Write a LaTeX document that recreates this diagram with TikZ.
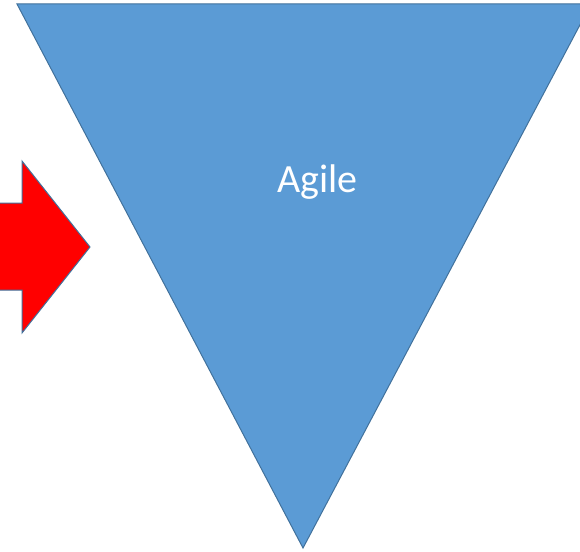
\documentclass[tikz,border=0pt]{standalone}
\usepackage{fontspec}
\setmainfont{Carlito}
\definecolor{shapefill}{HTML}{5B9BD5}
\definecolor{shapeline}{HTML}{41719C}
\definecolor{arrowred}{HTML}{FF0000}
\tikzset{
  funnel/.style={fill=shapefill, draw=shapeline, line width=1pt, line join=miter},
  bigarrow/.style={fill=arrowred, draw=shapeline, line width=1pt, line join=miter},
  label/.style={text=white, font=\fontsize{40}{48}\selectfont, inner sep=0pt}
}
\begin{document}
\begin{tikzpicture}[x=1pt,y=-1pt]
  \useasboundingbox (0,0) rectangle (580,551);
  \clip (0,0) rectangle (580,551);
  % inverted triangle
  \draw[funnel] (17,4) -- (591,4) -- (303,548) -- cycle;
  % block arrow pointing right
  \draw[bigarrow] (-10,203) -- (22,203) -- (22,161) -- (90,247)
                  -- (22,333) -- (22,290) -- (-10,290) -- cycle;
  \node[label, anchor=base] (agile) at (317.5,192) {Agile};
\end{tikzpicture}
\end{document}
